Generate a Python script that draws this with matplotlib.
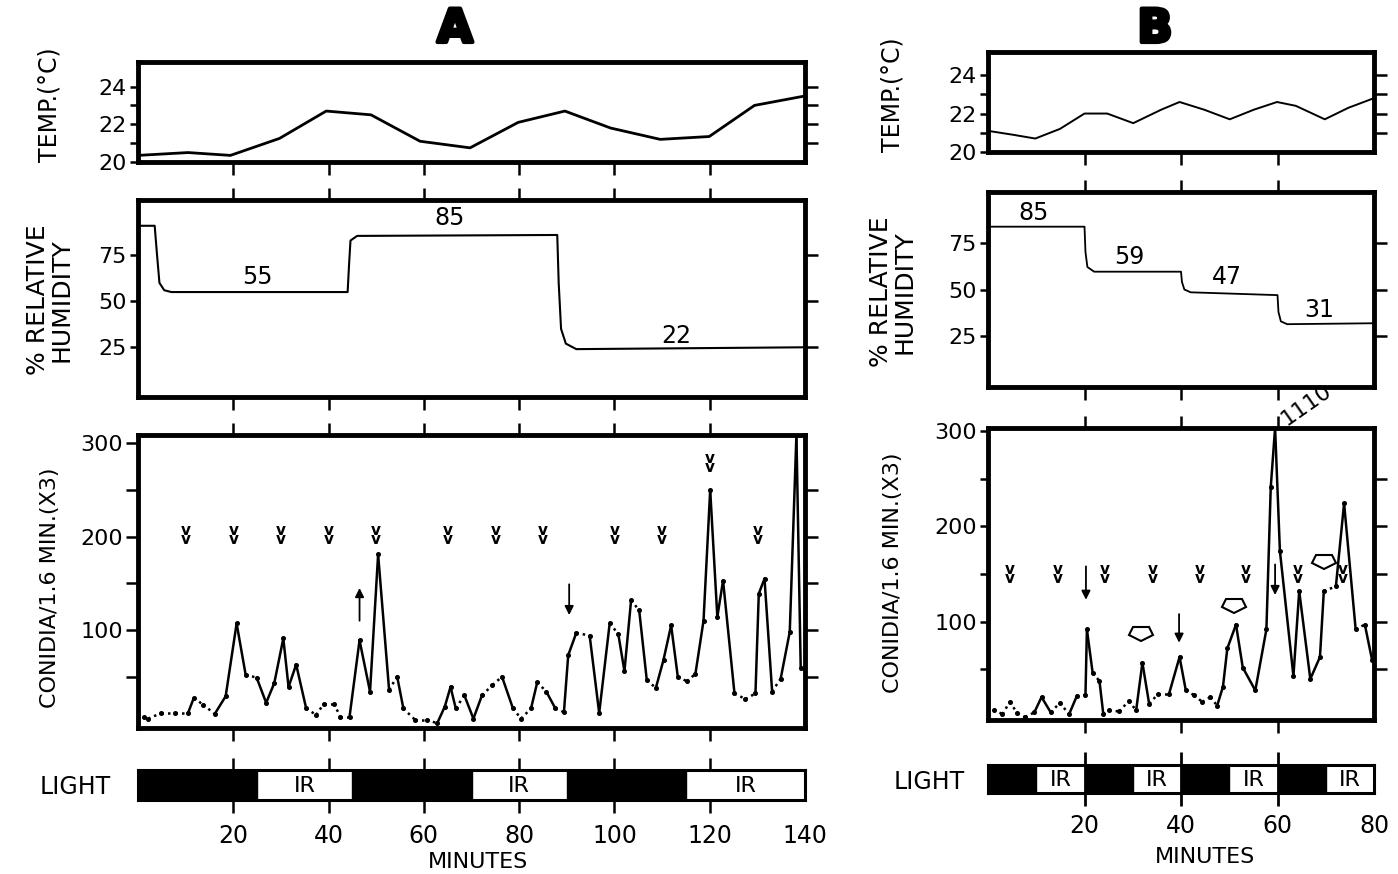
import matplotlib
matplotlib.use("Agg")
import matplotlib.pyplot as plt
import matplotlib.patheffects as pe
import numpy as np
from matplotlib.markers import MarkerStyle
from matplotlib.transforms import Affine2D

plt.rcParams['font.family'] = ['DejaVu Sans']

# ---------------- panel A data (minutes 0-140) ----------------
temp_a_t = [0, 10.5, 19.4, 29.7, 39.5, 48.9, 59.2, 69.7, 79.8, 89.6, 99.2, 109.6, 119.9, 129.4, 140]
temp_a_v = [20.35, 20.5, 20.35, 21.25, 22.7, 22.5, 21.1, 20.75, 22.1, 22.7, 21.8, 21.2, 21.35, 23.0, 23.5]

rh_a_t = [0, 3.5, 4.0, 4.5, 5.5, 7.0, 44.0, 44.3, 44.6, 46.0, 88.0, 88.3, 88.8, 89.8, 92.0, 140]
rh_a_v = [91, 91, 75, 60, 56, 55, 55, 70, 83, 85.5, 86, 60, 35, 27, 24, 25]
rh_a_labels = ['55', '85', '22']
rh_a_label_t = [25, 65.5, 113]
rh_a_label_v = [63, 95, 31]

con_a_t = [1.2, 2.1, 4.9, 7.7, 10.5, 11.7, 13.7, 16.1, 18.4, 20.7, 22.6, 24.9, 26.9, 28.6, 30.5,
           31.6, 33.2, 35.3, 37.4, 39.0, 41.1, 42.5, 44.4, 46.5, 48.7, 50.4, 52.7, 54.4, 55.7, 58.1,
           60.6, 62.8, 64.4, 65.6, 66.7, 68.5, 70.4, 72.2, 74.4, 76.4, 78.7, 80.4, 82.5, 83.8, 85.7,
           87.6, 89.4, 90.3, 92.0, 94.8, 96.8, 99.0, 100.8, 102.1, 103.5, 105.2, 106.8, 108.7, 110.3,
           111.9, 113.3, 115.2, 117.0, 118.7, 120.1, 121.6, 122.8, 125.2, 127.5, 129.6, 130.3, 131.5,
           133.1, 134.9, 136.8, 138.2, 139.1]
con_a_v = [7, 5, 11, 11, 11, 27, 20, 10, 29, 107, 52, 49, 22, 43, 91,
           39, 63, 16, 9, 21, 21, 7, 7, 89, 34, 181, 36, 50, 16, 4,
           4, 0, 18, 39, 16, 30, 5, 30, 41, 50, 16, 5, 16, 44, 34,
           16, 12, 73, 97, 94, 11, 107, 96, 56, 132, 121, 46, 38, 68,
           105, 50, 45, 53, 110, 250, 114, 153, 32, 26, 32, 139, 155,
           34, 48, 98, 330, 59]
chev_a_t = [10, 20, 30, 40, 50, 65, 75, 85, 100, 110, 120, 130]
chev_a_v = [202, 202, 202, 202, 202, 202, 202, 202, 202, 202, 279, 202]
arrow_a_t = [46.5, 90.5]
arrow_a_tail = [110, 149]
arrow_a_head = [145, 116]

light_a_dark = [(0, 25), (45, 70), (90, 115)]
light_a_ir = [(25, 45), (70, 90), (115, 140)]

# ---------------- panel B data (minutes 0-80) ----------------
temp_b_t = [0, 5.1, 9.8, 14.9, 20.0, 24.7, 30.1, 35.9, 39.7, 44.8, 50.1, 55.1, 59.9, 63.8, 69.8, 74.7, 80]
temp_b_v = [21.1, 20.9, 20.7, 21.2, 22.0, 22.0, 21.5, 22.2, 22.6, 22.2, 21.7, 22.2, 22.6, 22.4, 21.7, 22.3, 22.8]

rh_b_t = [0, 20.0, 20.2, 20.6, 22.0, 40.0, 40.2, 40.7, 42.0, 60.0, 60.2, 60.7, 62.0, 80]
rh_b_v = [83.5, 83.5, 70, 62, 59.5, 59.5, 54, 50, 48.5, 47, 38, 33, 31.5, 32]
rh_b_labels = ['85', '59', '47', '31']
rh_b_label_t = [9.5, 29.2, 49.5, 68.6]
rh_b_label_v = [91, 67.5, 56.5, 39]

con_b_t = [1.2, 3.0, 4.5, 6.1, 7.7, 9.6, 11.1, 13.0, 14.9, 16.8, 18.4, 20.2, 20.5, 21.7, 23.1,
           23.9, 25.1, 27.2, 29.2, 30.7, 32.0, 33.4, 35.2, 37.5, 39.7, 41.0, 42.7, 44.4, 46.1, 47.5,
           48.7, 49.6, 51.4, 52.8, 55.4, 57.7, 58.6, 59.5, 60.5, 63.3, 64.5, 66.8, 68.8, 69.6, 72.1,
           73.8, 76.2, 78.1, 79.6]
con_b_v = [8, 3, 16, 4, 0, 5, 21, 5, 15, 3, 22, 23, 92, 46, 38,
           3, 7, 6, 17, 7, 57, 14, 24, 24, 63, 28, 23, 16, 21, 12,
           32, 72, 97, 52, 28, 92, 241, 1110, 174, 43, 132, 40, 63, 132, 137,
           224, 92, 97, 60]
chev_b_t = [4.6, 14.5, 24.3, 34.1, 43.9, 53.4, 64.2, 73.6]
chev_b_v = [150, 150, 150, 150, 150, 150, 150, 150]
arrow_b_t = [20.3, 39.6, 59.5]
arrow_b_tail = [158, 108, 160]
arrow_b_head = [123, 78, 128]
pent_b_t = [31.8, 51.0, 69.7]
pent_b_v = [88, 118, 164]

light_b_dark = [(0, 10), (20, 30), (40, 50), (60, 70)]
light_b_ir = [(10, 20), (30, 40), (50, 60), (70, 80)]

W, H = 1398, 874
fig = plt.figure(figsize=(W / 100, H / 100), dpi=100)


def box(x0, y0, x1, y1):
    return [x0 / W, 1 - y1 / H, (x1 - x0) / W, (y1 - y0) / H]


def frame(ax, xlim, ylim, xt, top, bottom, lt, ll, rt, lticklen=6):
    ax.set_xlim(xlim)
    ax.set_ylim(ylim)
    for s in ax.spines.values():
        s.set_linewidth(3.5)
    ax.set_xticks(xt)
    ax.tick_params(axis='x', direction='out', length=9, width=1.8,
                   top=top, bottom=bottom, labelbottom=False)
    ax.set_yticks(lt)
    ax.set_yticklabels(ll)
    ax.tick_params(axis='y', direction='out', length=lticklen, width=1.8, labelsize=16, pad=2)
    tw = ax.twinx()
    tw.set_ylim(ylim)
    tw.set_yticks(rt)
    tw.set_yticklabels([])
    tw.tick_params(axis='y', direction='out', length=9, width=1.8)
    for s in tw.spines.values():
        s.set_visible(False)


def trace(ax, t, v, top, lw=1.8):
    t = np.array(t)
    v = np.array(v, dtype=float)
    vv = np.minimum(v, top)
    for i in range(len(t) - 1):
        ls = '-' if abs(v[i + 1] - v[i]) >= 15 else (0, (1, 1.6))
        ax.plot(t[i:i + 2], vv[i:i + 2], linestyle=ls, color='k', lw=lw,
                solid_capstyle='round')
    keep = v < top
    ax.plot(t[keep], v[keep], 'o', color='k', ms=2.6)


def chevrons(ax, t, v):
    for x, y in zip(t, v):
        ax.text(x, y, 'v\nv', ha='center', va='center', fontsize=11,
                fontweight='bold', linespacing=0.55)


def arrows(ax, t, tail, head):
    for x, a, b in zip(t, tail, head):
        ax.annotate('', xy=(x, b), xytext=(x, a),
                    arrowprops=dict(arrowstyle='-|>', color='k', lw=1.3, mutation_scale=13,
                                    shrinkA=0, shrinkB=0))


def light(ax, xlim, dark, ir):
    ax.set_xlim(xlim)
    ax.set_ylim(0, 1)
    ax.set_yticks([])
    for s in ax.spines.values():
        s.set_linewidth(2.2)
    for s, e in dark:
        ax.axvspan(s, e, color='k')
    for s, e in ir:
        ax.text((s + e) / 2, 0.48, 'IR', ha='center', va='center', fontsize=16)


ticks_a = [20, 40, 60, 80, 100, 120]
ticks_b = [20, 40, 60]

# ---------------- panel A ----------------
ax = fig.add_axes(box(138, 62, 805, 162))
frame(ax, (0, 140), (20, 25.3), ticks_a, False, True,
      [20, 21, 22, 23, 24], ['20', '', '22', '', '24'], [21, 22, 23, 24])
ax.plot(temp_a_t, temp_a_v, color='k', lw=2)

ax = fig.add_axes(box(138, 200, 805, 397))
frame(ax, (0, 140), (-2, 105), ticks_a, True, True, [25, 50, 75], ['25', '50', '75'], [25, 50, 75])
ax.plot(rh_a_t, rh_a_v, color='k', lw=1.5)
for s, x, y in zip(rh_a_labels, rh_a_label_t, rh_a_label_v):
    ax.text(x, y, s, ha='center', va='center', fontsize=17)

ax = fig.add_axes(box(138, 435, 805, 728))
frame(ax, (0, 140), (-5, 309), ticks_a, True, True, [50, 100, 150, 200, 250, 300],
      ['', '100', '', '200', '', '300'], [50, 100, 150, 200, 250], lticklen=9)
trace(ax, con_a_t, con_a_v, 309)
chevrons(ax, chev_a_t, chev_a_v)
arrows(ax, arrow_a_t, arrow_a_tail, arrow_a_head)

ax = fig.add_axes(box(138, 770, 805, 800))
light(ax, (0, 140), light_a_dark, light_a_ir)
ax.set_xticks([20, 40, 60, 80, 100, 120, 140])
ax.tick_params(axis='x', direction='out', length=9, width=1.8, top=True, labelsize=17, pad=8)
last = ax.xaxis.get_major_ticks()[-1]
last.tick1line.set_visible(False)
last.tick2line.set_visible(False)

# ---------------- panel B ----------------
ax = fig.add_axes(box(988, 52, 1374, 152))
frame(ax, (0, 80), (20, 25.2), ticks_b, False, True,
      [20, 21, 22, 23, 24], ['20', '', '22', '', '24'], [21, 22, 23, 24])
ax.plot(temp_b_t, temp_b_v, color='k', lw=1.4)

ax = fig.add_axes(box(988, 192, 1374, 387))
frame(ax, (0, 80), (-2, 102), ticks_b, True, True, [25, 50, 75], ['25', '50', '75'], [25, 50, 75])
ax.plot(rh_b_t, rh_b_v, color='k', lw=1.3)
for s, x, y in zip(rh_b_labels, rh_b_label_t, rh_b_label_v):
    ax.text(x, y, s, ha='center', va='center', fontsize=17)

ax = fig.add_axes(box(988, 428, 1374, 720))
frame(ax, (0, 80), (-3, 303), ticks_b, True, True, [50, 100, 150, 200, 250, 300],
      ['', '100', '', '200', '', '300'], [50, 100, 150, 200, 250])
trace(ax, con_b_t, con_b_v, 303)
chevrons(ax, chev_b_t, chev_b_v)
arrows(ax, arrow_b_t, arrow_b_tail, arrow_b_head)
pent = MarkerStyle('p', transform=Affine2D().scale(1.7, 1.0).rotate_deg(180))
ax.plot(pent_b_t, pent_b_v, linestyle='none', marker=pent, ms=11, mfc='white', mec='k', mew=1.5)
ax.text(66, 327, '1110', rotation=35, ha='center', va='center', fontsize=16, clip_on=False)

ax = fig.add_axes(box(988, 765, 1374, 793))
light(ax, (0, 80), light_b_dark, light_b_ir)
ax.set_xticks([20, 40, 60, 80])
ax.tick_params(axis='x', length=0, labelsize=17, pad=15)
ax.vlines(ticks_b, -0.45, 1.45, color='k', lw=2, transform=ax.get_xaxis_transform(), clip_on=False)


# ---------------- figure texts ----------------
def ftext(x, y, s, **kw):
    kw.setdefault('va', 'center')
    fig.text(x / W, 1 - y / H, s, ha='center', **kw)


heavy = [pe.withStroke(linewidth=3, foreground='k')]
ftext(455, 42, 'A', fontsize=33, fontweight='bold', va='baseline', path_effects=heavy)
ftext(1155, 42, 'B', fontsize=33, fontweight='bold', va='baseline', path_effects=heavy)

ftext(50, 105, 'TEMP.(°C)', rotation=90, fontsize=17)
ftext(50, 300, '% RELATIVE\nHUMIDITY', rotation=90, fontsize=18, linespacing=0.95)
ftext(50, 588, 'CONIDIA/1.6 MIN.(X3)', rotation=90, fontsize=16)
ftext(75, 787, 'LIGHT', fontsize=17)
ftext(478, 862, 'MINUTES', fontsize=16)

ftext(893, 95, 'TEMP.(°C)', rotation=90, fontsize=17)
ftext(893, 292, '% RELATIVE\nHUMIDITY', rotation=90, fontsize=18, linespacing=0.95)
ftext(893, 573, 'CONIDIA/1.6 MIN.(X3)', rotation=90, fontsize=16)
ftext(929, 782, 'LIGHT', fontsize=17)
ftext(1205, 857, 'MINUTES', fontsize=16)

fig.savefig('out.png', dpi=100)
